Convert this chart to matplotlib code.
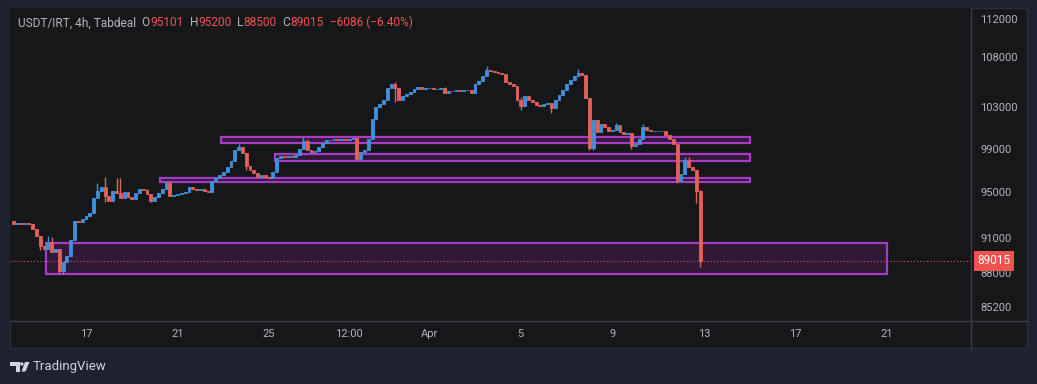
import pandas as pd
import numpy as np
import matplotlib.pyplot as plt
import matplotlib.dates as mdates
import matplotlib.patches as mpatches
import matplotlib.transforms as mtransforms
from matplotlib.lines import Line2D
from matplotlib.ticker import FixedLocator, NullLocator

plt.rcParams['font.family'] = ['Roboto', 'DejaVu Sans']

# USDT/IRT 4h candles, 2025-03-13 20:00 .. 2025-04-12 20:00
first_open = 92450
closes = [92190, 92280, 92190, 92280, 92190, 91750, 91140, 90280, 90030, 90630,
          89770, 90030, 88170, 88920, 89440, 90800, 92450, 92360, 92630, 92890,
          93160, 94500, 95120, 95490, 94680, 94230, 95120, 94940, 94500, 95030,
          94590, 94410, 94940, 95300, 95210, 94850, 94230, 94590, 94940, 95300,
          95850, 94680, 94770, 94850, 94940, 95030, 95490, 95300, 95210, 95300,
          95120, 95030, 96030, 96300, 96580, 96890, 97310, 97880, 98900, 99180,
          98620, 97410, 97070, 96790, 96400, 96580, 96400, 96300, 96890, 98150,
          98340, 98240, 98340, 98240, 98430, 98990, 99750, 98900, 98710, 98810,
          99180, 99560, 99850, 99850, 99940, 99850, 99940, 99850, 99940, 100040,
          98060, 98710, 98900, 99940, 101850, 103020, 103320, 103710, 104900, 105290,
          104900, 103710, 104100, 104300, 104500, 104800, 104990, 104800, 104900, 104900,
          104800, 104800, 104900, 104400, 104600, 104600, 104700, 104600, 104700, 104700,
          104400, 105290, 105600, 106100, 106700, 106600, 106500, 106400, 106300, 105500,
          105290, 105090, 103710, 103120, 104100, 103710, 103510, 103220, 103120, 103320,
          103420, 102930, 103710, 104200, 104700, 105290, 105700, 106100, 106400, 106200,
          103910, 99090, 101750, 100610, 101370, 101080, 100700, 100800, 101270, 100610,
          100420, 100510, 99280, 99470, 99940, 101080, 100800, 100700, 100700, 100700,
          100700, 100320, 99940, 99470, 96030, 96670, 97970, 97310, 97070, 95101,
          89015]
# visible wicks (candle index -> price)
high_wicks = {9: 91140, 10: 91060, 22: 95850, 24: 96400, 27: 96300, 28: 96300,
              35: 95300, 40: 96030, 41: 96030, 59: 99470, 76: 100130, 77: 99940,
              100: 105500, 113: 105000, 124: 107120, 133: 104000, 148: 106800,
              158: 101500, 165: 101370, 176: 98240, 177: 98240, 180: 95200}
low_wicks = {7: 89940, 12: 87920, 13: 87920, 24: 94140, 36: 94140, 61: 97000,
             100: 103510, 133: 102700, 141: 102440, 151: 98900, 152: 98900,
             162: 99000, 174: 95850, 179: 94040, 180: 88500}

# support / resistance boxes: start, end, top, bottom
zone_start = ['2025-03-22 22:00', '2025-03-25 06:00', '2025-03-20 06:00', '2025-03-15 06:00']
zone_end = ['2025-04-15 00:00', '2025-04-15 00:00', '2025-04-15 00:00', '2025-04-21 00:00']
zone_top = [100150, 98500, 96350, 90550]
zone_bottom = [99550, 97850, 95950, 87900]

last_price = 89015
price_ticks = [85200, 88000, 91000, 95000, 99000, 103000, 108000, 112000]
date_ticks = ['2025-03-17 00:00', '2025-03-21 00:00', '2025-03-25 00:00', '2025-03-28 12:00',
              '2025-04-01 00:00', '2025-04-05 00:00', '2025-04-09 00:00', '2025-04-13 00:00',
              '2025-04-17 00:00', '2025-04-21 00:00']
date_labels = ['17', '21', '25', '12:00', 'Apr', '5', '9', '13', '17', '21']

times = pd.date_range('2025-03-13 20:00', periods=len(closes), freq='4h')
x = mdates.date2num(times)
opens = np.array([first_open] + closes[:-1], dtype=float)
c = np.array(closes, dtype=float)
highs = np.maximum(opens, c)
lows = np.minimum(opens, c)
for k, v in high_wicks.items():
    highs[k] = v
for k, v in low_wicks.items():
    lows[k] = v

W, H = 1037, 384
BG_OUT = '#1e2130'
BG = '#161719'
GRID = '#3a3e4a'
TXT = '#b2b5be'
UP = '#4190dc'
DOWN = '#e3605b'
RED_TXT = '#f05454'
PURPLE = '#a63cc6'

def fx(px):
    return px / W

def fy(py):
    return 1 - py / H

fig = plt.figure(figsize=(W / 100, H / 100), dpi=100)
fig.patch.set_facecolor(BG_OUT)

panel = mpatches.Rectangle((fx(10), fy(348)), fx(1027) - fx(10), fy(8) - fy(348),
                           transform=fig.transFigure, facecolor=BG, edgecolor='#2a2e39',
                           lw=1, zorder=-1)
fig.add_artist(panel)

ax = fig.add_axes([fx(10), fy(321), fx(971) - fx(10), fy(8) - fy(321)])
ax.set_facecolor(BG)
for s in ax.spines.values():
    s.set_visible(False)

ax.set_yscale('log')
ax.set_ylim(84080, 113180)
ax.set_xlim(mdates.date2num(pd.Timestamp('2025-03-13 16:18')),
            mdates.date2num(pd.Timestamp('2025-04-24 16:05')))

# zones
for s0, s1, top, bot in zip(zone_start, zone_end, zone_top, zone_bottom):
    x0 = mdates.date2num(pd.Timestamp(s0))
    x1 = mdates.date2num(pd.Timestamp(s1))
    ax.add_patch(mpatches.Rectangle((x0, bot), x1 - x0, top - bot,
                                    facecolor=(0.61, 0.15, 0.69, 0.2),
                                    edgecolor=PURPLE, lw=1.6, zorder=2))

# candles
colors = [UP if cl >= op else DOWN for op, cl in zip(opens, c)]
ax.vlines(x, lows, highs, colors=colors, lw=1, zorder=3)
ax.bar(x, np.abs(c - opens), bottom=np.minimum(opens, c), width=0.125,
       color=colors, edgecolor=colors, lw=0.6, zorder=4)

# last price line + label
ax.axhline(last_price, color=DOWN, lw=0.8, ls=(0, (1, 2)), zorder=1)
trans = mtransforms.blended_transform_factory(ax.transAxes, ax.transData)
ax.text(1.0065, last_price, f'{last_price}', transform=trans, ha='left', va='center',
        color='white', fontsize=8.5, clip_on=False,
        bbox=dict(boxstyle='square,pad=0.3', fc='#ef5350', ec='none'))

# axes ticks
ax.yaxis.tick_right()
ax.yaxis.set_major_locator(FixedLocator(price_ticks))
ax.yaxis.set_minor_locator(NullLocator())
ax.set_yticklabels([str(p) for p in price_ticks])
ax.set_xticks([mdates.date2num(pd.Timestamp(d)) for d in date_ticks])
ax.set_xticklabels(date_labels)
ax.tick_params(axis='y', length=0, pad=6.5, labelsize=8, colors=TXT)
ax.tick_params(axis='x', length=0, pad=6, labelsize=8, colors=TXT)

# separators
fig.add_artist(Line2D([fx(971), fx(971)], [fy(8), fy(348)], color=GRID, lw=1))
fig.add_artist(Line2D([fx(10), fx(1027)], [fy(321), fy(321)], color=GRID, lw=1))

# header
parts = [('USDT/IRT, 4h, Tabdeal', TXT), ('  O', TXT), ('95101', RED_TXT),
         ('  H', TXT), ('95200', RED_TXT), ('  L', TXT), ('88500', RED_TXT),
         ('  C', TXT), ('89015', RED_TXT), ('  \u22126086 (\u22126.40%)', RED_TXT)]
prev = fig.text(fx(18), fy(29.5), parts[0][0], color=parts[0][1], fontsize=8.6, va='bottom')
for s, col in parts[1:]:
    prev = ax.annotate(s, xy=(1, 0), xycoords=prev, color=col, fontsize=8.6, va='bottom')

# TradingView logo
logo_col = '#d1d4dc'
pt = mtransforms.Affine2D().scale(1, -1).translate(0, H)
fig.add_artist(mpatches.Polygon([(10, 362), (19.5, 362), (19.5, 371.5), (15.5, 371.5),
                                 (15.5, 366), (10, 366)],
                                closed=True, fc=logo_col, ec='none', transform=pt))
fig.add_artist(mpatches.Circle((21.8, 364), 1.7, fc=logo_col, ec='none', transform=pt))
fig.add_artist(mpatches.Polygon([(25, 362), (29.5, 362), (25.5, 371.5), (21.5, 371.5)],
                                closed=True, fc=logo_col, ec='none', transform=pt))
fig.text(fx(33), fy(366.5), 'TradingView', color=logo_col, fontsize=9.5, va='center')

fig.savefig('out.png', dpi=100, facecolor=fig.get_facecolor())
